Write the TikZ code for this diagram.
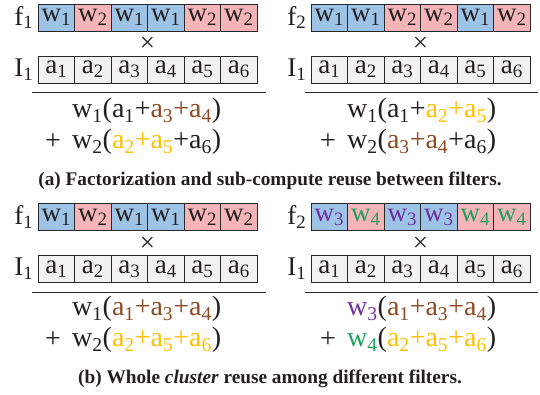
\documentclass[tikz,border=0pt]{standalone}
\usepackage{fontspec}
\setmainfont{Liberation Serif}
\usepackage{xcolor}
\usetikzlibrary{positioning}

\definecolor{wblue}{RGB}{157,195,230}
\definecolor{wpink}{RGB}{244,180,184}
\definecolor{agray}{RGB}{242,242,242}
\definecolor{lineclr}{RGB}{40,40,40}
\definecolor{txtclr}{RGB}{35,31,32}
\definecolor{abrown}{RGB}{140,75,35}
\definecolor{agold}{RGB}{255,192,0}
\definecolor{wpurple}{RGB}{112,48,160}
\definecolor{wgreen}{RGB}{30,160,95}

\newcommand{\ix}[1]{\textsubscript{#1}}

\tikzset{
  cell/.style={draw=lineclr, line width=0.9pt, minimum width=36.5pt, minimum height=27pt,
    inner sep=0pt, font=\fontsize{27}{30}\selectfont},
  lbl/.style={font=\fontsize{27}{30}\selectfont, inner sep=0pt},
  eqn/.style={font=\fontsize{28}{31}\selectfont, inner sep=0pt},
  capt/.style={font=\fontsize{19.3}{22}\selectfont\bfseries, inner sep=0pt},
  rule/.style={draw=lineclr, line width=0.9pt}
}

\begin{document}
\begin{tikzpicture}[x=1pt, y=-1pt, text=txtclr]
  \useasboundingbox (0,0) rectangle (540,394);

  % (a) left: f1 times I1
  \foreach \cc/\ww [count=\i] in {wblue/1, wpink/2, wblue/1, wblue/1, wpink/2, wpink/2} {
    \node[cell, fill=\cc] (fa\i) at ({38+36.5*(\i-0.5)}, 17.5) {w\ix{\ww}};
  }
  \foreach \i in {1,...,6} {
    \node[cell, fill=agray] (ia\i) at ({38+36.5*(\i-0.5)}, 69.5) {a\ix{\i}};
  }
  \node[lbl, left=4pt of fa1] (lfa) {f\ix{1}};
  \node[lbl, left=4pt of ia1] (lia) {I\ix{1}};
  \node[lbl] (xa) at (147.5, 44) {×};
  \draw[rule] (32,92) -- (266,92);
  \node[eqn, anchor=west] (ea1) at (72,111) {w\ix{1}(a\ix{1}+\textcolor{abrown}{a\ix{3}+a\ix{4}})};
  \node[eqn, anchor=east] (pa) at (61,142) {+};
  \node[eqn, anchor=west] (ea2) at (72,142) {w\ix{2}(\textcolor{agold}{a\ix{2}+a\ix{5}}+a\ix{6})};

  % (a) right: f2 times I1
  \foreach \cc/\ww [count=\i] in {wblue/1, wblue/1, wpink/2, wpink/2, wblue/1, wpink/2} {
    \node[cell, fill=\cc] (fb\i) at ({311+36.5*(\i-0.5)}, 17.5) {w\ix{\ww}};
  }
  \foreach \i in {1,...,6} {
    \node[cell, fill=agray] (ib\i) at ({311+36.5*(\i-0.5)}, 69.5) {a\ix{\i}};
  }
  \node[lbl, left=4pt of fb1] (lfb) {f\ix{2}};
  \node[lbl, left=4pt of ib1] (lib) {I\ix{1}};
  \node[lbl] (xb) at (420.5, 44) {×};
  \draw[rule] (305,92) -- (538,92);
  \node[eqn, anchor=west] (eb1) at (347,111) {w\ix{1}(a\ix{1}+\textcolor{agold}{a\ix{2}+a\ix{5}})};
  \node[eqn, anchor=east] (pb) at (336,142) {+};
  \node[eqn, anchor=west] (eb2) at (347,142) {w\ix{2}(\textcolor{abrown}{a\ix{3}+a\ix{4}}+a\ix{6})};

  \node[capt] (capa) at (270,181) {(a) Factorization and sub-compute reuse between filters.};

  % (b) left: f1 times I1
  \foreach \cc/\ww [count=\i] in {wblue/1, wpink/2, wblue/1, wblue/1, wpink/2, wpink/2} {
    \node[cell, fill=\cc] (fc\i) at ({38+36.5*(\i-0.5)}, 217) {w\ix{\ww}};
  }
  \foreach \i in {1,...,6} {
    \node[cell, fill=agray] (ic\i) at ({38+36.5*(\i-0.5)}, 269) {a\ix{\i}};
  }
  \node[lbl, left=4pt of fc1] (lfc) {f\ix{1}};
  \node[lbl, left=4pt of ic1] (lic) {I\ix{1}};
  \node[lbl] (xc) at (147.5, 244) {×};
  \draw[rule] (32,292) -- (266,292);
  \node[eqn, anchor=west] (ec1) at (72,309) {w\ix{1}(\textcolor{abrown}{a\ix{1}+a\ix{3}+a\ix{4}})};
  \node[eqn, anchor=east] (pc) at (61,340) {+};
  \node[eqn, anchor=west] (ec2) at (72,340) {w\ix{2}(\textcolor{agold}{a\ix{2}+a\ix{5}+a\ix{6}})};

  % (b) right: f2 with its own clusters w3, w4
  \foreach \cc/\tc/\ww [count=\i] in {wblue/wpurple/3, wpink/wgreen/4, wblue/wpurple/3,
      wblue/wpurple/3, wpink/wgreen/4, wpink/wgreen/4} {
    \node[cell, fill=\cc, text=\tc] (fd\i) at ({311+36.5*(\i-0.5)}, 217) {w\ix{\ww}};
  }
  \foreach \i in {1,...,6} {
    \node[cell, fill=agray] (id\i) at ({311+36.5*(\i-0.5)}, 269) {a\ix{\i}};
  }
  \node[lbl, left=4pt of fd1] (lfd) {f\ix{2}};
  \node[lbl, left=4pt of id1] (lid) {I\ix{1}};
  \node[lbl] (xd) at (420.5, 244) {×};
  \draw[rule] (305,292) -- (538,292);
  \node[eqn, anchor=west] (ed1) at (347,309) {\textcolor{wpurple}{w\ix{3}}(\textcolor{abrown}{a\ix{1}+a\ix{3}+a\ix{4}})};
  \node[eqn, anchor=east] (pd) at (336,340) {+};
  \node[eqn, anchor=west] (ed2) at (347,340) {\textcolor{wgreen}{w\ix{4}}(\textcolor{agold}{a\ix{2}+a\ix{5}+a\ix{6}})};

  \node[capt] (capb) at (270,379) {(b) Whole \textit{cluster} reuse among different filters.};
\end{tikzpicture}
\end{document}
